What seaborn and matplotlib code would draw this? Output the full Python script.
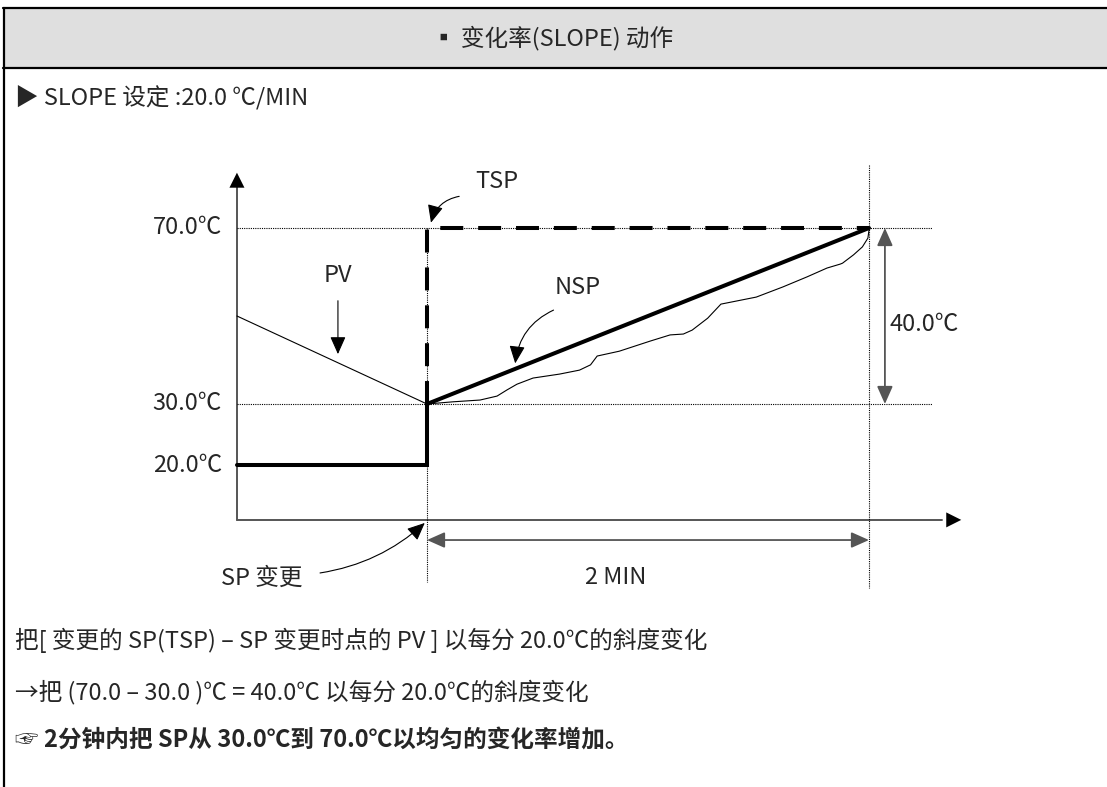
import matplotlib
matplotlib.use("Agg")
import matplotlib.pyplot as plt
from matplotlib.patches import Rectangle
from matplotlib.lines import Line2D
import numpy as np
import seaborn as sns

# values (time in MIN after the SP change, temperature in degC)
levels = [20.0, 30.0, 70.0]
sp_old = 20.0
tsp = 70.0
pv_at_change = 30.0
ramp_minutes = 2.0
slope = 20.0

pv_before_t = [-0.86, 0.0]
pv_before_T = [50.0, 30.0]

pv_after_t = [0.0, 0.118, 0.24, 0.317, 0.362, 0.407, 0.48, 0.60, 0.69, 0.74, 0.77, 0.87,
              1.01, 1.10, 1.16, 1.20, 1.27, 1.33, 1.38, 1.49, 1.61, 1.72, 1.81, 1.87,
              1.88, 1.93, 1.97, 1.995, 2.0, 2.0]
pv_after_T = [30.0, 30.5, 30.9, 31.8, 33.2, 34.5, 35.9, 36.8, 37.7, 38.9, 40.9, 42.0,
              44.3, 45.7, 45.9, 46.8, 49.5, 52.7, 53.2, 54.3, 56.6, 58.9, 60.9, 61.8,
              62.0, 63.9, 65.7, 67.7, 69.5, 70.0]

# frame of the schematic axes
t_origin, T_origin = -0.86, 11.0
t_xaxis_end, T_yaxis_end = 2.43, 83.2
t_guide_end = 2.285

FONT = ["Noto Sans CJK SC", "DejaVu Sans"]
W, H = 1107, 787
TXT = 17
LBL = 17

sns.set_theme(style="white")
plt.rcParams["font.family"] = FONT
plt.rcParams["axes.unicode_minus"] = False


def fx(px):
    return px / W


def fy(py):
    return 1 - py / H


# schematic (non linear) temperature scale, like the hand drawn original
T_knots = [-50.0, 20.0, 30.0, 150.0]
h_knots = [-427.0, 0.0, 61.0, 589.0]


def fwd(T):
    return np.interp(T, T_knots, h_knots)


def inv(h):
    return np.interp(h, h_knots, T_knots)


fig = plt.figure(figsize=(W / 100, H / 100), dpi=100)

# header band and outer frame
fig.patches.append(Rectangle((fx(4), fy(68)), 1.0, (68 - 8) / H, transform=fig.transFigure,
                             facecolor="#dfdfdf", edgecolor="none", zorder=0))
for yy in (8, 68):
    fig.lines.append(Line2D([fx(3), 1.0], [fy(yy), fy(yy)], transform=fig.transFigure,
                            color="black", lw=1.6))
fig.lines.append(Line2D([fx(4), fx(4)], [fy(8), 0.0], transform=fig.transFigure,
                        color="black", lw=1.6))

fig.text(fx(553), fy(38), "▪ 变化率(SLOPE) 动作", ha="center", va="center", fontsize=TXT)
fig.text(fx(15), fy(97), f"▶ SLOPE 设定 :{slope:.1f} ℃/MIN", ha="left", va="center", fontsize=TXT)
fig.text(fx(15), fy(640), "把[ 变更的 SP(TSP) – SP 变更时点的 PV ] 以每分 20.0℃的斜度变化",
         ha="left", va="center", fontsize=TXT)
fig.text(fx(15), fy(692),
         f"→把 ({tsp:.1f} – {pv_at_change:.1f} )℃ = {tsp - pv_at_change:.1f}℃ 以每分 {slope:.1f}℃的斜度变化",
         ha="left", va="center", fontsize=TXT)
fig.text(fx(15), fy(741),
         f"☞ 2分钟内把 SP从 {pv_at_change:.1f}℃到 {tsp:.1f}℃以均匀的变化率增加。",
         ha="left", va="center", fontsize=TXT, fontweight="bold")

# diagram axes: pixels 200..1000 wide, 150..610 high
ax = fig.add_axes([fx(200), fy(610), (1000 - 200) / W, (610 - 150) / H])
ax.set_yscale("function", functions=(fwd, inv))
ax.set_xlim((200 - 427) / 221, (1000 - 427) / 221)
ax.set_ylim(inv(465 - 610), inv(465 - 150))
ax.axis("off")

axis_grey = "#555555"
head = dict(arrowstyle="-|>,head_length=0.9,head_width=0.45", color="black", lw=0)

# axes with arrow heads
ax.plot([t_origin, t_origin], [T_origin, T_yaxis_end - 2.5], color=axis_grey, lw=1.4)
ax.plot([t_origin, t_xaxis_end - 0.1], [T_origin, T_origin], color=axis_grey, lw=1.4)
ax.annotate("", xy=(t_origin, T_yaxis_end), xytext=(t_origin, T_yaxis_end - 3), arrowprops=head)
ax.annotate("", xy=(t_xaxis_end, T_origin), xytext=(t_xaxis_end - 0.12, T_origin), arrowprops=head)

# dotted guides
for lv in (pv_at_change, tsp):
    ax.plot([t_origin, t_guide_end], [lv, lv], color="black", lw=0.8, ls=(0, (1, 1)))
ax.plot([0, 0], [tsp, 0.8], color="black", lw=0.8, ls=(0, (1, 1)))
ax.plot([ramp_minutes, ramp_minutes], [84.3, -0.2], color="black", lw=0.8, ls=(0, (1, 1)))

# set point before the change
ax.plot([t_origin, 0, 0], [sp_old, sp_old, pv_at_change], color="black", lw=2.9,
        solid_joinstyle="miter")
# target set point (dashed)
ax.plot([0, 0, ramp_minutes], [pv_at_change, tsp, tsp], color="black", lw=2.9,
        ls=(0, (5.7, 3.7)))
# NSP ramp
sns.lineplot(x=[0, ramp_minutes], y=[pv_at_change, tsp], ax=ax, color="black", lw=2.9,
             estimator=None, sort=False)
# PV
sns.lineplot(x=pv_before_t, y=pv_before_T, ax=ax, color="black", lw=0.8, estimator=None, sort=False)
sns.lineplot(x=pv_after_t, y=pv_after_T, ax=ax, color="black", lw=0.8, estimator=None, sort=False)

# level labels
for lv in levels:
    ax.text((222 - 427) / 221, lv, f"{lv:.1f}℃", ha="right", va="center", fontsize=LBL)

# PV label
ax.text(-0.403, 59.3, "PV", ha="center", va="center", fontsize=LBL)
ax.annotate("", xy=(-0.403, 40.7), xytext=(-0.403, 54.1),
            arrowprops=dict(arrowstyle="-|>,head_length=0.9,head_width=0.4", color="black", lw=0.8))

# TSP label
ax.text(0.317, 80.5, "TSP", ha="center", va="center", fontsize=LBL)
ax.annotate("", xy=(0.015, 70.6), xytext=(0.158, 77.3),
            arrowprops=dict(arrowstyle="-|>,head_length=0.9,head_width=0.4", color="black", lw=0.8,
                            connectionstyle="arc3,rad=0.35"))

# NSP label
ax.text(0.683, 56.4, "NSP", ha="center", va="center", fontsize=LBL)
ax.annotate("", xy=(0.398, 38.6), xytext=(0.584, 51.6),
            arrowprops=dict(arrowstyle="-|>,head_length=0.9,head_width=0.4", color="black", lw=0.8,
                            connectionstyle="arc3,rad=0.3"))

# 40.0 degC span
ax.annotate("", xy=(2.072, tsp), xytext=(2.072, pv_at_change),
            arrowprops=dict(arrowstyle="<|-|>,head_length=0.9,head_width=0.4", color=axis_grey, lw=1.3,
                            shrinkA=0, shrinkB=0))
ax.text(2.095, 48.0, f"{tsp - pv_at_change:.1f}℃", ha="left", va="center", fontsize=LBL)

# 2 MIN span
ax.annotate("", xy=(ramp_minutes, 7.7), xytext=(0, 7.7),
            arrowprops=dict(arrowstyle="<|-|>,head_length=0.9,head_width=0.4", color=axis_grey, lw=1.3,
                            shrinkA=0, shrinkB=0))
ax.text(0.855, 1.48, f"{ramp_minutes:.0f} MIN", ha="center", va="center", fontsize=LBL)

# SP change label
ax.text(-0.747, 1.48, "SP 变更", ha="center", va="center", fontsize=LBL)
ax.annotate("", xy=(-0.01, 10.5), xytext=(-0.484, 2.3),
            arrowprops=dict(arrowstyle="-|>,head_length=0.9,head_width=0.4", color="black", lw=0.8,
                            connectionstyle="arc3,rad=0.15", shrinkA=0, shrinkB=0))

fig.savefig("out.png", dpi=100)
